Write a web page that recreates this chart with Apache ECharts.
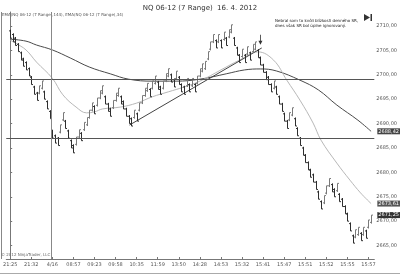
<!DOCTYPE html>
<html><head><meta charset="utf-8">
<script src="https://cdn.jsdelivr.net/npm/echarts@6/dist/echarts.min.js"></script>
<style>html,body{margin:0;padding:0;background:#fff}#c{width:400px;height:277px}</style>
</head><body><div id="c"></div>
<script>
// Bar index of each x-axis label and its text
var labelIdx = [0,8,16,24,32,40,48,56,64,72,80,88,96,104,112,120,128,136];
var timeLabels = ["21:25","21:32","4/16","08:57","09:23","09:58","10:35","11:59","13:50","14:28","14:53","15:32","15:41","15:47","15:51","15:52","15:55","15:57"];
var yTicks = [2665,2670,2675,2680,2685,2690,2695,2700,2705,2710];

// 7-range bars
var lows = [2707.5,2706.75,2706,2704.75,2703,2701.75,2701,2699.75,2698,2696,
2694.75,2696,2697,2695,2693,2691,2687,2686,2685.5,2688,
2690.5,2689,2687,2685,2684,2685.5,2687,2686.5,2688.5,2689.5,
2691,2692.5,2692,2693.5,2695,2696,2694,2692.5,2691.5,2693,
2694.5,2695.5,2694,2693,2691.5,2690,2689.5,2691,2690.5,2692.5,
2694,2695.5,2696.5,2695.5,2697,2698,2697,2696,2697,2698.5,
2699.5,2698.5,2697.5,2699,2698,2696.5,2696,2697.5,2696.5,2697.5,
2696.5,2698,2699.5,2700.5,2701,2703,2705,2706.5,2705.5,2706.5,
2705.5,2707,2706,2707.5,2708.5,2706,2704,2702.5,2703.5,2702.5,
2704,2703,2704.5,2705,2703.5,2702,2700.5,2699,2698,2696.5,
2697,2696,2694,2692.5,2690.5,2689,2690.5,2691.5,2689.5,2687.5,
2685.5,2683.5,2682,2680.5,2679,2678,2676.5,2674.5,2672.5,2673.5,
2675.5,2677,2676,2675,2676,2674,2673,2671.5,2670,2668,
2665.5,2666.5,2667,2666,2667,2666.5,2668.5,2669.5];
var highs = [2709.25,2708.5,2707.75,2706.5,2704.75,2703.5,2702.75,2701.5,2699.75,2697.75,
2696.5,2697.75,2698.75,2696.75,2694.75,2692.75,2688.75,2687.75,2687.25,2689.75,
2692.25,2690.75,2688.75,2686.75,2685.75,2687.25,2688.75,2688.25,2690.25,2691.25,
2692.75,2694.25,2693.75,2695.25,2696.75,2697.75,2695.75,2694.25,2693.25,2694.75,
2696.25,2697.25,2695.75,2694.75,2693.25,2691.75,2691.25,2692.75,2692.25,2694.25,
2695.75,2697.25,2698.25,2697.25,2698.75,2699.75,2698.75,2697.75,2698.75,2700.25,
2701.25,2700.25,2699.25,2700.75,2699.75,2698.25,2697.75,2699.25,2698.25,2699.25,
2698.25,2699.75,2701.25,2702.25,2702.75,2704.75,2706.75,2708.25,2707.25,2708.25,
2707.25,2708.75,2707.75,2709.25,2710.25,2707.75,2705.75,2704.25,2705.25,2704.25,
2705.75,2704.75,2706.25,2706.75,2705.25,2703.75,2702.25,2700.75,2699.75,2698.25,
2698.75,2697.75,2695.75,2694.25,2692.25,2690.75,2692.25,2693.25,2691.25,2689.25,
2687.25,2685.25,2683.75,2682.25,2680.75,2679.75,2678.25,2676.25,2674.25,2675.25,
2677.25,2678.75,2677.75,2676.75,2677.75,2675.75,2674.75,2673.25,2671.75,2669.75,
2667.25,2668.25,2668.75,2667.75,2668.75,2668.25,2670.25,2671.25];
var opens = [2709,2708.25,2707.5,2706.25,2704.5,2703.25,2702.5,2701.25,2699.5,2697.5,
2696.25,2696.25,2697.25,2696.5,2694.5,2692.5,2688.5,2687.5,2687,2688.25,
2690.75,2690.5,2688.5,2686.5,2685.5,2685.75,2687.25,2688,2688.75,2689.75,
2691.25,2692.75,2693.5,2693.75,2695.25,2696.25,2695.5,2694,2693,2693.25,
2694.75,2695.75,2695.5,2694.5,2693,2691.5,2691,2691.25,2692,2692.75,
2694.25,2695.75,2696.75,2697,2697.25,2698.25,2698.5,2697.5,2697.25,2698.75,
2699.75,2700,2699,2699.25,2699.5,2698,2697.5,2697.75,2698,2697.75,
2698,2698.25,2699.75,2700.75,2701.25,2703.25,2705.25,2706.75,2707,2706.75,
2707,2707.25,2707.5,2707.75,2708.75,2707.5,2705.5,2704,2703.75,2704,
2704.25,2704.5,2704.75,2705.25,2705,2703.5,2702,2700.5,2699.5,2698,
2697.25,2697.5,2695.5,2694,2692,2690.5,2690.75,2691.75,2691,2689,
2687,2685,2683.5,2682,2680.5,2679.5,2678,2676,2674,2673.75,
2675.75,2677.25,2677.5,2676.5,2676.25,2675.5,2674.5,2673,2671.5,2669.5,
2667,2666.75,2667.25,2667.5,2667.25,2668,2668.75,2669.75];
var closes = [2707.5,2706.75,2706,2704.75,2703,2701.75,2701,2699.75,2698,2696,
2694.75,2697.75,2698.75,2695,2693,2691,2687,2686,2685.5,2689.75,
2692.25,2689,2687,2685,2684,2687.25,2688.75,2686.5,2690.25,2691.25,
2692.75,2694.25,2692,2695.25,2696.75,2697.75,2694,2692.5,2691.5,2694.75,
2696.25,2697.25,2694,2693,2691.5,2690,2689.5,2692.75,2690.5,2694.25,
2695.75,2697.25,2698.25,2695.5,2698.75,2699.75,2697,2696,2698.75,2700.25,
2701.25,2698.5,2697.5,2700.75,2698,2696.5,2696,2699.25,2696.5,2699.25,
2696.5,2699.75,2701.25,2702.25,2702.75,2704.75,2706.75,2708.25,2705.5,2708.25,
2705.5,2708.75,2706,2709.25,2710.25,2706,2704,2702.5,2705.25,2702.5,
2705.75,2703,2706.25,2706.75,2703.5,2702,2700.5,2699,2698,2696.5,
2698.75,2696,2694,2692.5,2690.5,2689,2692.25,2693.25,2689.5,2687.5,
2685.5,2683.5,2682,2680.5,2679,2678,2676.5,2674.5,2672.5,2675.25,
2677.25,2678.75,2676,2675,2677.75,2674,2673,2671.5,2670,2668,
2665.5,2668.25,2668.75,2666,2668.75,2666.5,2670.25,2671.25];

// EMA(144) dark line, read at bar indices
var ema144Idx = [0,6,10,16,23,30,38,45,54,63,72,82,89,95,101,110,117,124,132,137];
var ema144Val = [2707.3,2706.9,2706.1,2705.1,2703.4,2701.6,2700.2,2699.1,2698.7,2698.7,2699.1,2700.2,2701.0,2701.2,2700.8,2698.9,2696.9,2693.8,2690.7,2688.42];
// EMA(34) light line
var ema34Idx = [0,2,6,10,16,20,25,29,32,35,42,48,54,60,66,72,80,87,94,100,105,110,115,118,124,129,133,137];
var ema34Val = [2707.1,2706.5,2705.1,2702.6,2699.3,2695.9,2693.4,2692.2,2692.4,2693.0,2693.4,2694.2,2695.5,2696.5,2697.5,2698.7,2701.0,2703.0,2704.7,2703.0,2698.9,2694.8,2690.1,2686.6,2681.9,2678.4,2675.8,2673.61];
// drawn trend line (bar index, price)
var trendIdx = [45.3,95.5];
var trendVal = [2689.7,2705.5];
// horizontal lines and day separator
var hLines = [2699.1,2687.05];
var dayLineIdx = 15.6;
var arrowAt = [95,2707.2];
// last values shown on the price axis
var lastEma144 = 2688.42, lastEma34 = 2673.61, lastClose = 2671.25;

var UP = '#7a7a7a', DOWN = '#2e2e2e';
var ohlc = lows.map(function(l,i){return [i,opens[i],closes[i],l,highs[i]];});
function fmt(v){return v.toFixed(2).replace('.',',');}
function pair(a,b){return a.map(function(x,i){return [x,b[i]];});}

var chart = echarts.init(document.getElementById('c'),null,{renderer:'canvas'});
var FONT = 'DejaVu Sans';
var valLab = function(v,col){return {yAxis:v,label:{show:true,position:'end',distance:3,formatter:fmt(v),fontSize:5,fontFamily:FONT,color:'#fff',backgroundColor:col,padding:[1,1,0,1]},lineStyle:{color:'rgba(0,0,0,0)',width:0}};};
chart.setOption({
  animation:false,
  backgroundColor:'#fff',
  title:{text:'NQ 06-12 (7 Range)  16. 4. 2012',left:'center',top:0,textStyle:{fontSize:7,fontWeight:'normal',color:'#333',fontFamily:FONT}},
  grid:{left:1,right:23,top:12,bottom:18,show:false},
  xAxis:{type:'value',min:-1.486,max:138.23,
    axisLine:{show:true,lineStyle:{color:'#777'}},
    axisTick:{show:true,inside:true,length:2,lineStyle:{color:'#777'},customValues:labelIdx},
    axisLabel:{fontSize:5,color:'#555',fontFamily:FONT,margin:3,customValues:labelIdx,
      formatter:function(v){var k=labelIdx.indexOf(Math.round(v));return k>=0?timeLabels[k]:'';}},
    splitLine:{show:false}},
  yAxis:{type:'value',position:'right',min:2662.25,max:2712.87,
    axisLine:{show:true,lineStyle:{color:'#777'}},
    axisTick:{show:true,length:2,lineStyle:{color:'#777'},customValues:yTicks},
    axisLabel:{fontSize:5,color:'#555',fontFamily:FONT,margin:2,customValues:yTicks,formatter:fmt},
    splitLine:{show:false}},
  series:[
    {type:'line',data:pair(ema144Idx,ema144Val),smooth:0.4,showSymbol:false,lineStyle:{color:'#4a4a4a',width:1},z:2,
     markLine:{silent:true,symbol:['none','none'],data:[valLab(lastEma144,'#444'),valLab(lastEma34,'#555'),valLab(lastClose,'#333')]}},
    {type:'line',data:pair(ema34Idx,ema34Val),smooth:0.4,showSymbol:false,lineStyle:{color:'#b8b8b8',width:1},z:2},
    {type:'line',data:pair(trendIdx,trendVal),showSymbol:false,lineStyle:{color:'#444',width:1},z:3,
     markLine:{silent:true,symbol:['none','none'],label:{show:false},lineStyle:{color:'#555',width:1,type:'solid'},
       data:[{yAxis:hLines[0]},{yAxis:hLines[1]},{xAxis:dayLineIdx,lineStyle:{color:'#888'}}]},
     markPoint:{silent:true,data:[{coord:arrowAt,symbol:'path://M4 0 L6 0 L6 11 L10 11 L5 18 L0 11 L4 11 Z',symbolSize:[4,10],itemStyle:{color:'#333'},label:{show:false}}]}},
    {type:'custom',data:ohlc,encode:{x:0,y:[1,2,3,4]},z:4,
     renderItem:function(params,api){
       var x=api.value(0),o=api.value(1),c=api.value(2),l=api.value(3),h=api.value(4);
       var pH=api.coord([x,h]),pL=api.coord([x,l]),pO=api.coord([x,o]),pC=api.coord([x,c]);
       var px=Math.round(pH[0])+0.5, col=c>=o?UP:DOWN;
       var st={stroke:col,lineWidth:1};
       return {type:'group',children:[
         {type:'line',shape:{x1:px,y1:pH[1],x2:px,y2:pL[1]},style:st},
         {type:'line',shape:{x1:px-1.5,y1:pO[1],x2:px,y2:pO[1]},style:st},
         {type:'line',shape:{x1:px,y1:pC[1],x2:px+1.5,y2:pC[1]},style:st}
       ]};
     }}
  ],
  graphic:[
    {type:'line',shape:{x1:1.5,y1:12,x2:1.5,y2:259},style:{stroke:'#888',lineWidth:1}},
    {type:'line',shape:{x1:0,y1:273.5,x2:400,y2:273.5},style:{stroke:'#aaa',lineWidth:1}},
    {type:'text',left:2,top:13,style:{text:'EMA(NQ 06-12 (7 Range),144), EMA(NQ 06-12 (7 Range),34)',fontSize:4,fill:'#555',fontFamily:FONT}},
    {type:'text',left:275,top:18,style:{text:'Nebral som to kvôli blízkosti denného SR,\ndnes však SR bol úplne ignorovaný.',fontSize:4,lineHeight:5,fill:'#222',fontFamily:FONT}},
    {type:'group',left:364,top:14,children:[
      {type:'polygon',shape:{points:[[0,0],[6,3.5],[0,7]]},style:{fill:'#333'}},
      {type:'rect',shape:{x:6.5,y:0,width:1.5,height:7},style:{fill:'#333'}}]},
    {type:'text',left:1,top:253,style:{text:'© 2012 NinjaTrader, LLC',fontSize:4,fill:'#666',fontFamily:FONT}}
  ]
});
</script></body></html>
